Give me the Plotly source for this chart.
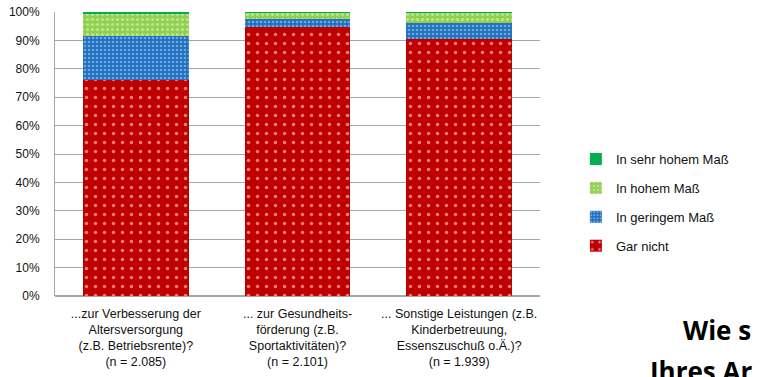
import plotly.graph_objects as go

categories = [
    "...zur Verbesserung der<br>Altersversorgung<br>(z.B. Betriebsrente)?<br>(n = 2.085)",
    "... zur Gesundheits-<br>förderung (z.B.<br>Sportaktivitäten)?<br>(n = 2.101)",
    "... Sonstige Leistungen (z.B.<br>Kinderbetreuung,<br>Essenszuschuß o.Ä.)?<br>(n = 1.939)",
]
gar_nicht = [75.9, 94.6, 90.4]
geringem = [15.8, 3.0, 5.8]
hohem = [7.6, 2.1, 3.5]
sehr_hohem = [0.7, 0.3, 0.3]

# (name, values, legend rank, fill)
series = [
    ("Gar nicht", gar_nicht, 4, dict(shape=".", bgcolor="#C00000", fgcolor="#FFFFFF", size=9, solidity=0.12)),
    ("In geringem Maß", geringem, 3, dict(shape=".", bgcolor="#1F6FBF", fgcolor="#BFE0FF", size=4, solidity=0.35)),
    ("In hohem Maß", hohem, 2, dict(shape=".", bgcolor="#92D050", fgcolor="#E8F7D8", size=5, solidity=0.3)),
    ("In sehr hohem Maß", sehr_hohem, 1, None),
]
solid = {"In sehr hohem Maß": "#00B050"}

fig = go.Figure()
for name, vals, rank, pat in series:
    marker = dict(line=dict(width=0))
    if pat:
        marker["color"] = pat["bgcolor"]
        marker["pattern"] = pat
    else:
        marker["color"] = solid[name]
    fig.add_trace(go.Bar(x=categories, y=vals, name=name, marker=marker,
                         legendgroup=name, legendrank=rank))

font = "Liberation Sans"
fig.update_layout(
    barmode="stack",
    bargap=0.345,
    width=761, height=377,
    margin=dict(l=55, r=221, t=12, b=81, autoexpand=False),
    paper_bgcolor="white", plot_bgcolor="white",
    font=dict(family=font, size=11, color="#111111"),
    legend=dict(
        traceorder="grouped", tracegroupgap=9,
        x=1.074, y=0.535, xanchor="left", yanchor="top",
        font=dict(size=13, color="#111111"),
        itemwidth=30,
    ),
    xaxis=dict(showline=False, ticks="", tickfont=dict(size=12.5), automargin=False,
               ticklabelstandoff=8),
    yaxis=dict(
        range=[0, 100], dtick=10, ticksuffix="%",
        showgrid=True, gridcolor="#A6A6A6", gridwidth=1,
        showline=True, linecolor="#A6A6A6", automargin=False,
        tickfont=dict(size=12), zeroline=True, zerolinecolor="#A6A6A6",
        ticklabelstandoff=12,
    ),
    annotations=[
        dict(text="<b>Wie s</b>", xref="paper", yref="paper", x=(681 - 55) / 485, y=(296 - 330) / 284,
             xanchor="left", yanchor="middle", showarrow=False,
             font=dict(family="Open Sans", size=26, color="#000000")),
        dict(text="<b>Ihres Ar</b>", xref="paper", yref="paper", x=(648 - 55) / 485, y=(296 - 371) / 284,
             xanchor="left", yanchor="middle", showarrow=False,
             font=dict(family="Open Sans", size=26, color="#000000")),
    ],
)

fig.write_html("out.html")
